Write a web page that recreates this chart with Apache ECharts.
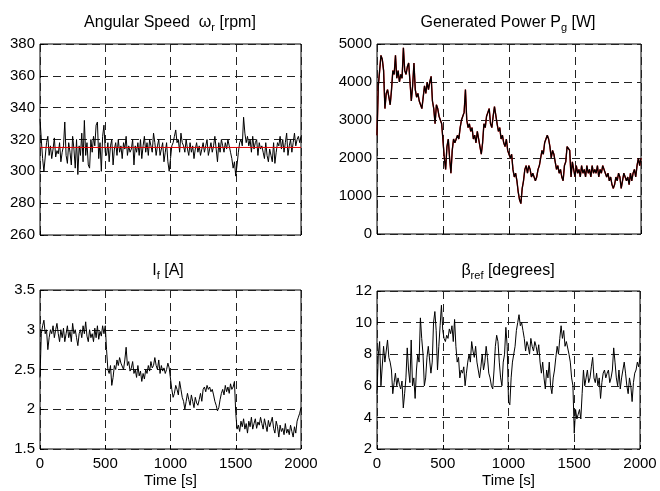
<!DOCTYPE html>
<html>
<head>
<meta charset="utf-8">
<script src="https://cdn.jsdelivr.net/npm/echarts@6/dist/echarts.min.js"></script>
<style>html,body{margin:0;padding:0;background:#fff}#c{width:660px;height:491px}</style>
</head>
<body>
<div id="c"></div>
<script>
// ---- data (time step 10 s, 0..2000 s) ----
const timeStep = 10;
const speedRef = 315;
const speed = [
333,320,308,300,300,318,322,310,316,308,
314,321,309,313,311,318,306,312,316,331,
310,305,318,312,304,322,314,302,320,298,
316,310,324,306,332,310,318,304,302,320,
312,322,316,329,331,308,318,300,322,329,
312,310,318,306,316,320,304,314,318,310,
320,312,316,308,318,314,322,310,316,312,
314,320,304,316,312,318,310,320,308,316,
322,312,318,310,320,316,312,324,318,310,
316,320,310,314,318,306,312,318,306,300,
308,316,318,322,326,318,320,312,324,318,
316,312,320,314,310,318,312,316,308,314,
318,312,316,310,314,318,312,316,320,310,
314,318,312,316,322,314,306,318,312,320,
316,312,318,314,320,316,312,308,302,306,
297,304,312,318,320,316,334,324,318,322,
316,320,312,322,314,318,320,310,318,314,
316,312,308,318,310,306,314,310,306,318,
305,312,318,316,322,314,320,312,318,324,
310,316,320,312,318,324,316,320,322,318,
322];
const power = [
2600,3900,4300,4700,4600,4300,3300,3700,3800,3600,
3400,3800,4300,4200,4700,4100,4300,4000,4200,4100,
4900,4300,4200,4400,4500,4000,3500,3900,4500,3800,
3600,3700,3500,3400,3300,3600,3900,3700,4000,3800,
4000,4150,3500,3300,2900,3400,3300,3100,3000,2900,
2850,2000,1700,2300,2500,2000,1600,2200,2500,2400,
2500,2600,2500,2800,3000,3100,3200,3800,3000,2800,
2900,2700,2800,2500,2600,2400,2700,2500,2300,2100,
2400,2900,2800,3100,3200,3300,2900,2800,3100,3350,
3350,2900,2700,2800,2500,2600,2400,2300,2500,2200,
2100,2000,2100,1700,1500,1600,1400,1100,900,800,
1200,1400,1700,1800,1600,1800,1700,1500,1600,1500,
1400,1500,1700,1800,2000,2200,2100,2400,2500,2600,
2500,2300,2000,2200,2100,1900,1700,1800,1600,1700,
1500,1400,1800,1900,2300,2350,2200,1500,1900,1700,
1500,1800,1600,1700,1500,1800,1600,1700,1500,1800,
1600,1700,1500,1800,1600,1700,1600,1800,1500,1700,
1600,1800,1700,1600,1500,1600,1400,1500,1300,1200,
1300,1500,1400,1600,1500,1200,1400,1600,1500,1400,
1500,1300,1600,1400,1600,1700,1500,1800,2000,1800,
2000];
const fieldCurrent = [
2.40,2.95,3.05,3.12,2.95,3.00,2.75,2.90,3.00,2.95,
3.05,2.90,3.00,3.08,2.95,2.85,3.00,2.90,3.02,2.85,
2.95,3.05,2.90,2.98,2.85,3.08,2.95,3.00,2.90,2.80,
2.95,3.00,2.90,3.05,2.95,3.10,2.92,2.85,3.00,2.90,
2.95,2.85,3.02,2.90,3.05,2.88,2.98,2.92,3.05,2.95,
3.05,2.75,2.50,2.45,2.55,2.30,2.40,2.55,2.50,2.62,
2.55,2.65,2.58,2.60,2.50,2.62,2.78,2.55,2.60,2.48,
2.52,2.60,2.45,2.50,2.40,2.55,2.42,2.48,2.35,2.45,
2.38,2.50,2.45,2.55,2.48,2.60,2.52,2.55,2.65,2.55,
2.50,2.62,2.45,2.55,2.48,2.52,2.45,2.50,2.58,2.52,
2.50,2.25,2.15,2.20,2.30,2.25,2.18,2.35,2.25,2.15,
2.10,2.00,2.10,2.20,2.12,2.05,2.18,2.10,2.02,2.15,
2.08,2.05,2.12,2.20,2.10,2.25,2.28,2.22,2.30,2.25,
2.28,2.22,2.25,2.18,2.10,2.05,1.98,2.02,2.12,2.20,
2.25,2.18,2.30,2.22,2.28,2.20,2.32,2.25,2.28,2.35,
1.95,1.75,1.80,1.72,1.85,1.78,1.88,1.75,1.82,1.70,
1.85,1.78,1.90,1.75,1.82,1.88,1.76,1.84,1.80,1.90,
1.82,1.75,1.88,1.80,1.72,1.86,1.78,1.84,1.90,1.76,
1.70,1.85,1.78,1.65,1.80,1.72,1.76,1.68,1.82,1.70,
1.75,1.68,1.80,1.72,1.65,1.78,1.70,1.85,1.90,1.95,
2.02];
const betaRef = [
5.5,8.0,8.8,6.0,5.9,8.5,7.5,8.2,8.9,7.8,
7.5,7.0,5.5,6.2,6.8,6.0,6.5,6.1,5.8,6.3,
4.6,5.5,6.5,8.4,7.0,6.2,8.9,6.0,6.5,5.2,
7.0,8.0,7.5,10.3,9.0,8.0,6.0,6.5,7.8,8.5,
8.5,6.8,7.5,10.0,10.7,9.5,7.0,8.5,9.8,11.1,
9.5,9.0,8.8,9.2,9.0,9.6,9.3,9.8,8.8,10.2,
8.5,7.5,7.8,6.5,7.0,6.8,7.2,6.0,6.8,7.5,
8.0,7.5,8.8,8.2,7.8,8.5,7.5,7.0,6.5,7.2,
8.0,7.0,7.5,8.5,7.8,6.8,6.5,6.0,5.8,7.0,
8.5,9.2,8.8,7.5,6.5,6.0,7.5,8.0,9.7,8.5,
5.0,4.8,6.5,7.5,8.0,8.5,9.5,10.0,10.5,9.8,
10.0,9.5,9.0,8.2,8.8,8.5,8.0,9.0,8.5,8.2,
8.8,8.5,8.0,8.6,7.5,6.8,7.5,6.5,5.8,7.0,
6.5,7.5,6.0,5.5,6.5,7.0,7.8,8.5,8.0,9.0,
9.8,9.0,9.5,8.5,8.8,8.7,8.0,7.5,6.5,6.0,
3.0,4.5,3.9,4.2,4.5,3.9,5.5,7.0,6.0,6.5,
7.0,6.2,6.5,7.2,7.8,6.5,6.2,6.8,6.0,6.5,
5.2,6.2,6.8,7.0,6.5,6.8,7.0,6.2,6.5,7.0,
8.4,7.5,6.5,6.0,7.0,5.8,6.5,7.0,7.5,6.8,
6.0,5.5,6.5,6.0,5.0,6.2,6.8,7.0,7.5,7.2,
7.8];
const xTicks = [0, 500, 1000, 1500, 2000];
const yRanges = [[260, 380, 20], [0, 5000, 1000], [1.5, 3.5, 0.5], [2, 12, 2]];

// ---- build ----
const pairs = arr => arr.map((v, i) => [i * timeStep, v]);
const FONT = 'Liberation Sans, Arial, sans-serif';
const plain = v => String(v);
const grids = [
  {left: 40, top: 44, width: 261, height: 191},
  {left: 377, top: 44, width: 264, height: 190},
  {left: 40, top: 290, width: 261, height: 159},
  {left: 377, top: 291, width: 263, height: 158}
].map(g => Object.assign({show: true, borderColor: '#000', borderWidth: 1, backgroundColor: '#fff'}, g));

const dash = {show: true, lineStyle: {color: '#222', type: [8, 5], width: 1}};
const xAxes = grids.map((g, i) => ({
  type: 'value', gridIndex: i, min: xTicks[0], max: xTicks[xTicks.length - 1], interval: 500,
  axisLine: {show: false}, axisTick: {show: true, inside: true, length: 4, lineStyle: {color: '#000'}},
  splitLine: dash,
  axisLabel: {show: i >= 2, color: '#000', fontFamily: FONT, fontSize: 15, margin: 7, formatter: plain},
  name: i >= 2 ? 'Time [s]' : '', nameLocation: 'middle', nameGap: 24,
  nameTextStyle: {color: '#000', fontFamily: FONT, fontSize: 15}
}));
const yAxes = grids.map((g, i) => ({
  type: 'value', gridIndex: i, min: yRanges[i][0], max: yRanges[i][1], interval: yRanges[i][2],
  axisLine: {show: false}, axisTick: {show: true, inside: true, length: 4, lineStyle: {color: '#000'}},
  splitLine: dash,
  axisLabel: {color: '#000', fontFamily: FONT, fontSize: 15, margin: 5, formatter: plain}
}));
const lineS = (i, data, color, w, z) => ({
  type: 'line', xAxisIndex: i, yAxisIndex: i, data: data, showSymbol: false, symbol: 'none',
  lineStyle: {color: color, width: w}, z: z, silent: true, animation: false
});
const series = [
  lineS(0, pairs(speed), '#000', 1, 2),
  lineS(0, [[xTicks[0], speedRef], [xTicks[4], speedRef]], '#e00000', 1, 3),
  lineS(1, pairs(power), '#e00000', 1.4, 2),
  lineS(1, pairs(power), '#000', 1.2, 3),
  lineS(2, pairs(fieldCurrent), '#000', 1, 2),
  lineS(3, pairs(betaRef), '#000', 1, 2)
];
const rich = {
  m: {fontFamily: FONT, fontSize: 16, color: '#000', lineHeight: 20, verticalAlign: 'middle'},
  sub: {fontFamily: FONT, fontSize: 11, color: '#000', lineHeight: 10, verticalAlign: 'bottom'}
};
const title = (x, y, text) => ({type: 'text', x: x, y: y, style: {text: text, align: 'center', verticalAlign: 'middle', rich: rich, fontFamily: FONT, fontSize: 16, fill: '#000'}});
const chart = echarts.init(document.getElementById('c'), null, {renderer: 'canvas'});
chart.setOption({
  animation: false,
  backgroundColor: '#fff',
  grid: grids, xAxis: xAxes, yAxis: yAxes, series: series,
  graphic: [
    title(170, 23, '{m|Angular Speed  ω}{sub|r}{m| [rpm]}'),
    title(508, 23, '{m|Generated Power P}{sub|g}{m| [W]}'),
    title(168, 271, '{m|I}{sub|f}{m| [A]}'),
    title(508, 271, '{m|β}{sub|ref}{m| [degrees]}')
  ]
});
</script>
</body>
</html>
